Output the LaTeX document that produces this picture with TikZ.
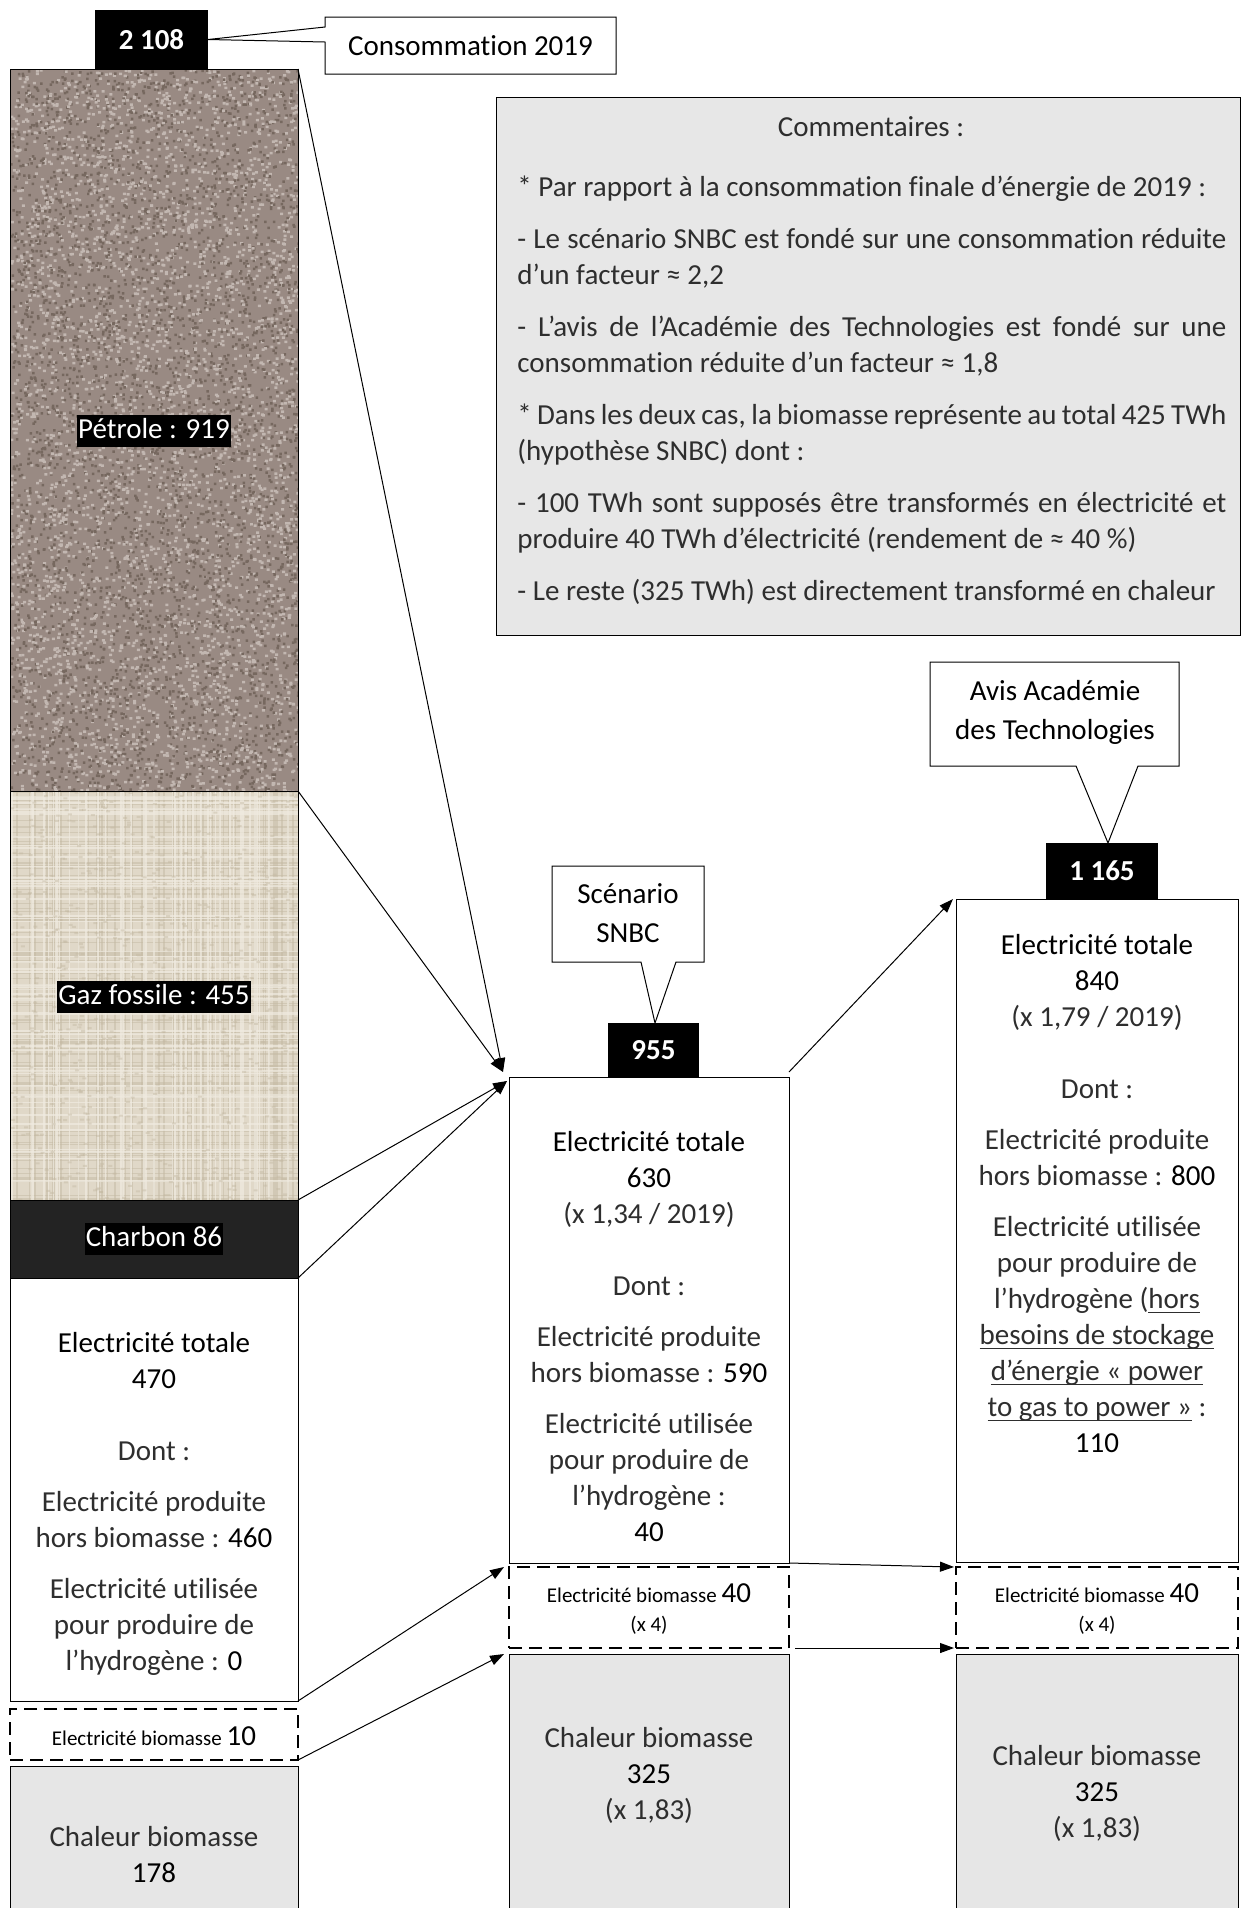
\documentclass[tikz,border=0pt]{standalone}
\usepackage{fontspec}
\setmainfont{Carlito}[Ligatures={TeX,NoCommon}]
\newfontfamily\dejavu{DejaVu Sans}
\usetikzlibrary{arrows.meta}
\definecolor{lighttext}{gray}{0.18}
\definecolor{chal}{HTML}{E6E6E6}
\definecolor{comm}{HTML}{E7E7E7}
\definecolor{petbase}{HTML}{998A83}
\definecolor{petlight}{HTML}{C2B7B1}
\definecolor{petdark}{HTML}{76685F}
\definecolor{gazbase}{HTML}{E0D8C8}
\definecolor{gazdark}{HTML}{C4B9A3}
\definecolor{gazlight}{HTML}{F0EBE1}
\definecolor{charb}{HTML}{232323}
\newcommand\lgt{\color{lighttext}}
\newcommand\apx{\iffontchar\font"2248 ≈\else{\dejavu ≈}\fi}
\newcommand\ulx[1]{\setbox0\hbox{#1}\leavevmode\rlap{\rule[-2.4pt]{\wd0}{0.65pt}}\box0\relax}
\begin{document}
\begin{tikzpicture}[x=0.5pt,y=-0.5pt,
 box/.style={draw=black, line width=0.5pt, anchor=north west, inner sep=0pt, outer sep=0pt},
 dbox/.style={draw=black, line width=1.1pt, dash pattern=on 6.5pt off 3.5pt, anchor=north west, inner sep=0pt, outer sep=0pt},
 numbox/.style={fill=black, text=white, font=\fontsize{14.5}{18}\selectfont\bfseries, inner sep=0pt, outer sep=0pt},
 txt/.style={anchor=north, align=center, inner sep=0pt, font=\fontsize{14.5}{18}\selectfont},
 stxt/.style={anchor=north, align=center, inner sep=0pt, font=\fontsize{10.5}{14.5}\selectfont},
 lab/.style={fill=black, text=white, font=\fontsize{14.5}{18}\selectfont, inner xsep=0.5pt, inner ysep=1pt, text height=10.6pt, text depth=3.4pt},
 arr/.style={-{Triangle[length=7pt,width=5pt]}, line width=0.5pt},
 call/.style={draw=black, line width=0.5pt, fill=white, line join=miter},
]
\useasboundingbox (0,0) rectangle (1242,1908);
\fill[white] (0,0) rectangle (1242,1908);

% ---------- textures ----------
\pgfmathsetseed{7}
\begin{scope}
  \clip (10,69) rectangle (298,791);
  \fill[petbase] (10,69) rectangle (298,791);
  \foreach \j in {1,...,50}{
    \fill[petdark] \foreach \i in {1,...,80}{ ({10+288*rnd},{69+722*rnd}) rectangle ++(2.5,2.5) };
    \fill[petlight] \foreach \i in {1,...,80}{ ({10+288*rnd},{69+722*rnd}) rectangle ++(3,2.5) };
  }
\end{scope}
\begin{scope}
  \clip (10,791) rectangle (298,1200);
  \fill[gazbase] (10,791) rectangle (298,1200);
  \draw[gazdark, line width=0.6pt, opacity=0.5] \foreach \i in {1,...,70}{ ({10+288*rnd},791) -- ++(0,409) };
  \draw[gazdark, line width=0.6pt, opacity=0.5] \foreach \i in {1,...,90}{ (10,{791+409*rnd}) -- ++(288,0) };
  \draw[gazlight, line width=0.8pt, opacity=0.7] \foreach \i in {1,...,50}{ ({10+288*rnd},791) -- ++(0,409) };
  \draw[gazlight, line width=0.8pt, opacity=0.7] \foreach \i in {1,...,60}{ (10,{791+409*rnd}) -- ++(288,0) };
  \foreach \j in {1,...,7}{
    \fill[gazdark, opacity=0.45] \foreach \i in {1,...,100}{ ({10+288*rnd},{791+409*rnd}) rectangle ++(4,2) };
  }
\end{scope}

% ---------- left column ----------
\node[numbox, minimum width=56.5pt, minimum height=29.5pt] (n2108) at (151.5,39.5) {2 108};
\node[box, minimum width=144pt, minimum height=361pt] (petrole) at (10,69) {};
\node[box, minimum width=144pt, minimum height=204.5pt] (gaz) at (10,791) {};
\node[box, fill=charb, minimum width=144pt, minimum height=39pt] (charbon) at (10,1200) {};
\node[box, fill=white, minimum width=144pt, minimum height=211.5pt] (elecL) at (10,1278) {};
\node[dbox, minimum width=144pt, minimum height=25.5pt] (dashL) at (10,1709) {};
\node[box, fill=chal, minimum width=144pt, minimum height=85pt] (chalL) at (10,1766) {};

\node[lab] (petlab) at (154,431) {Pétrole : 919};
\node[lab] (gazlab) at (154,997) {Gaz fossile : 455};
\node[lab] (charlab) at (154,1239) {Charbon 86};

\draw[call] (325,17) -- (616,17) -- (616,74) -- (325,74) -- (325,42) -- (n2108.east) -- (325,27) -- cycle;
\node[font=\fontsize{14.5}{18}\selectfont, inner sep=0pt] (conso) at (470.5,45.5) {Consommation 2019};

\node[txt] (tL) at (154,1327) {\strut Electricité totale\\ 470\\[18pt]
 {\lgt Dont :}\\[7.5pt]
 {\lgt Electricité produite}\\ {\lgt hors biomasse :} 460\\[7.5pt]
 {\lgt Electricité utilisée}\\ {\lgt pour produire de}\\ {\lgt l’hydrogène :} 0};
\node[stxt] (dL) at (154,1724.6) {\strut Electricité biomasse {\fontsize{14.5}{14.5}\selectfont 10}};
\node[txt] (cL) at (154,1821) {{\lgt\strut Chaleur biomasse}\\ 178};

% ---------- commentaires ----------
\node[box, fill=comm, minimum width=372pt, minimum height=269pt] (comm) at (496,97) {};
\node[txt] (ctitle) at (871,111) {{\lgt\strut Commentaires :}};
\node[anchor=north west, align=left, inner sep=0pt, font=\fontsize{14.5}{18}\selectfont, text=lighttext] (cbody) at (517,170.4) {%
\strut * Par rapport à la consommation finale d’énergie de 2019 :\\[8pt]
\makebox[354.5pt][s]{- Le scénario SNBC est fondé sur une consommation réduite}\\
d’un facteur \apx{} 2,2\\[8pt]
\makebox[354.5pt][s]{- L’avis de l’Académie des Technologies est fondé sur une}\\
consommation réduite d’un facteur \apx{} 1,8\\[8pt]
\makebox[354.5pt][s]{* Dans les deux cas, la biomasse représente au total 425 TWh}\\
(hypothèse SNBC) dont :\\[8pt]
\makebox[354.5pt][s]{- 100 TWh sont supposés être transformés en électricité et}\\
produire 40 TWh d’électricité (rendement de \apx{} 40~\%)\\[8pt]
- Le reste (325 TWh) est directement transformé en chaleur};

% ---------- middle column ----------
\node[numbox, minimum width=45.5pt, minimum height=27pt] (n955) at (653.5,1050) {955};
\node[box, minimum width=140pt, minimum height=243pt] (elecM) at (509,1077) {};
\node[dbox, minimum width=140pt, minimum height=40.5pt] (dashM) at (509,1567) {};
\node[box, fill=chal, minimum width=140pt, minimum height=145pt] (chalM) at (509,1654) {};

\draw[call] (552,866) -- (704,866) -- (704,962) -- (676,962) -- ([xshift=0.75pt]n955.north) -- (641,962) -- (552,962) -- cycle;
\node[txt, font=\fontsize{14.5}{19.5}\selectfont] (scen) at (628,876) {\strut Scénario\\ SNBC};

\node[txt] (tM) at (649,1125.4) {\strut Electricité totale\\ 630\\ {\lgt (x 1,34 / 2019)}\\[18pt]
 {\lgt Dont :}\\[7.5pt]
 {\lgt Electricité produite}\\ {\lgt hors biomasse :} 590\\[7.5pt]
 {\lgt Electricité utilisée}\\ {\lgt pour produire de}\\ {\lgt l’hydrogène :}\\ 40};
\node[stxt] (dM) at (649,1581.6) {\strut Electricité biomasse {\fontsize{14.5}{14.5}\selectfont 40}\\ (x 4)};
\node[txt] (cM) at (649,1721.4) {{\lgt\strut Chaleur biomasse}\\ 325\\ {\lgt (x 1,83)}};

% ---------- right column ----------
\node[numbox, minimum width=56pt, minimum height=28pt] (n1165) at (1102,871) {1 165};
\node[box, minimum width=141pt, minimum height=331.5pt] (elecR) at (956,899) {};
\node[dbox, minimum width=141pt, minimum height=40.5pt] (dashR) at (956,1567) {};
\node[box, fill=chal, minimum width=141pt, minimum height=145pt] (chalR) at (956,1654) {};

\draw[call] (930,662) -- (1179,662) -- (1179,766) -- (1138,766) -- ([xshift=3pt]n1165.north) -- (1076,766) -- (930,766) -- cycle;
\node[txt, font=\fontsize{14.5}{19.5}\selectfont] (avis) at (1055,673) {\strut Avis Académie\\ des Technologies};

\node[txt] (tR) at (1097,928.4) {\strut Electricité totale\\ 840\\ {\lgt (x 1,79 / 2019)}\\[18pt]
 {\lgt Dont :}\\[7.5pt]
 {\lgt Electricité produite}\\ {\lgt hors biomasse :} 800\\[7.5pt]
 {\lgt Electricité utilisée}\\ {\lgt pour produire de}\\ {\lgt l’hydrogène (\ulx{hors}}\\
 {\lgt \ulx{besoins de stockage}}\\ {\lgt \ulx{d’énergie «~power}}\\ {\lgt \ulx{to gas to power~»}\ :}\\ 110};
\node[stxt] (dR) at (1097,1581.6) {\strut Electricité biomasse {\fontsize{14.5}{14.5}\selectfont 40}\\ (x 4)};
\node[txt] (cR) at (1097,1739.4) {{\lgt\strut Chaleur biomasse}\\ 325\\ {\lgt (x 1,83)}};

% ---------- arrows ----------
\draw[arr] (petrole.north east) -- ([xshift=-3pt,yshift=2.5pt]elecM.north west);
\draw[arr] (gaz.north east) -- ([xshift=-3pt,yshift=2.5pt]elecM.north west);
\draw[arr] (charbon.north east) -- ([xshift=-1pt,yshift=-2pt]elecM.north west);
\draw[arr] (charbon.south east) -- ([xshift=-1pt,yshift=-2pt]elecM.north west);
\draw[arr] ([yshift=2.5pt]elecM.north east) -- ([xshift=-1.5pt]elecR.north west);
\draw[arr] (elecL.south east) -- ([xshift=-2.5pt]dashM.north west);
\draw[arr] (dashL.south east) -- ([xshift=-2.5pt]chalM.north west);
\draw[arr] (elecM.south east) -- ([xshift=-1pt]dashR.north west);
\draw[arr] ([xshift=3pt]dashM.south east) -- ([xshift=-1pt]dashR.south west);
\end{tikzpicture}
\end{document}
